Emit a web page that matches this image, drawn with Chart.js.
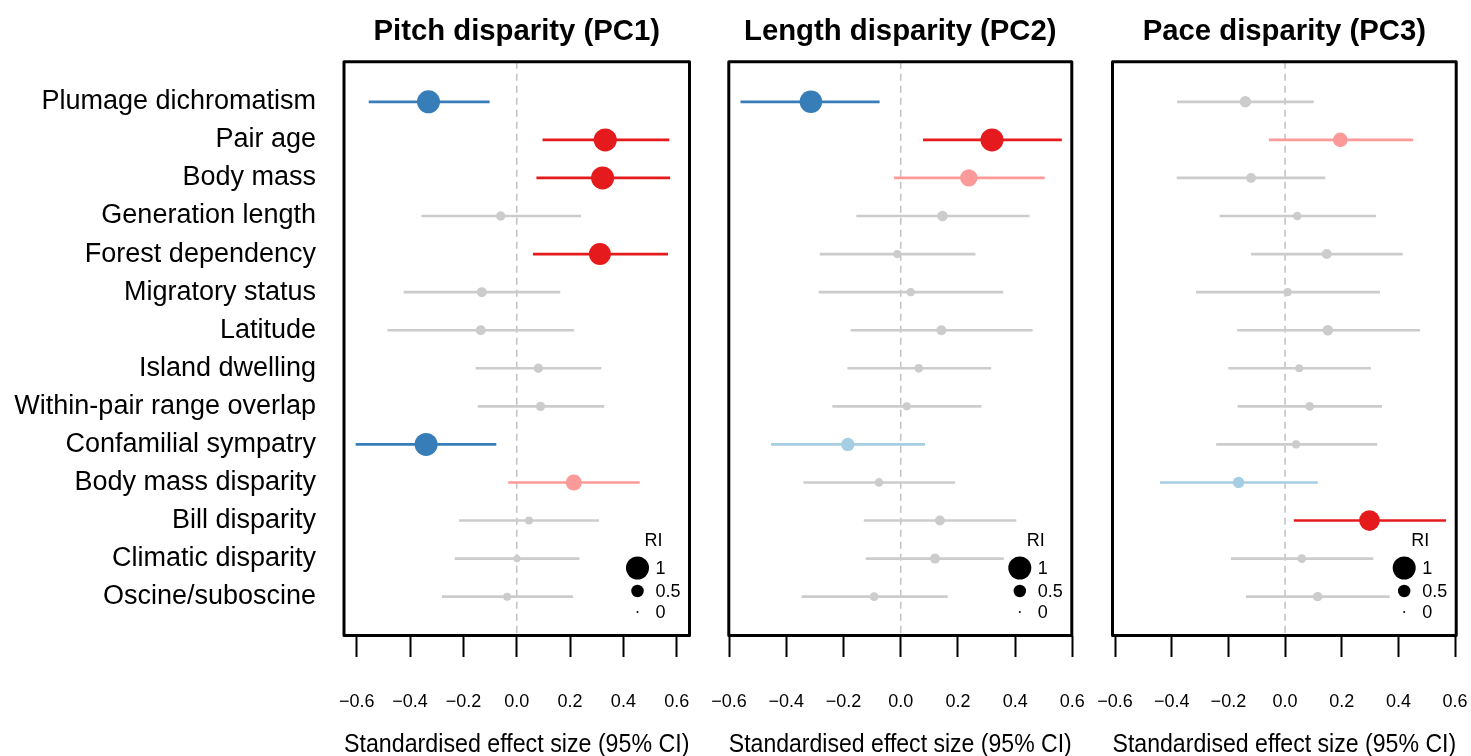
<!DOCTYPE html>
<html><head><meta charset="utf-8">
<script src="https://cdn.jsdelivr.net/npm/chart.js@4.4.1/dist/chart.umd.min.js"></script>
<style>
html,body{margin:0;padding:0;background:#fff;}
#wrap{position:relative;width:1471px;height:756px;overflow:hidden;background:#fff;}
canvas{position:absolute;top:0;}
</style></head><body>
<div id="wrap">
<canvas id="c1" width="705" height="756" style="left:0px;width:705px;height:756px"></canvas>
<canvas id="c2" width="385" height="756" style="left:705px;width:385px;height:756px"></canvas>
<canvas id="c3" width="381" height="756" style="left:1090px;width:381px;height:756px"></canvas>
</div>
<script>
// ---------- DATA ----------
const categories = ["Plumage dichromatism","Pair age","Body mass","Generation length","Forest dependency",
  "Migratory status","Latitude","Island dwelling","Within-pair range overlap","Confamilial sympatry",
  "Body mass disparity","Bill disparity","Climatic disparity","Oscine/suboscine"];
const xTickValues = [-0.6,-0.4,-0.2,0,0.2,0.4,0.6];
const xTickLabels = ["\u22120.6","\u22120.4","\u22120.2","0.0","0.2","0.4","0.6"];
const panelTitles = ["Pitch disparity (PC1)","Length disparity (PC2)","Pace disparity (PC3)"];
const axisTitle = "Standardised effect size (95% CI)";
const riLegendValues = [1, 0.5, 0];
const riLegendLabels = ["1","0.5","0"];

// Pitch disparity (PC1)
const pitchEst = [-0.331, 0.332, 0.322, -0.060, 0.312, -0.131, -0.135, 0.081, 0.089, -0.340, 0.214, 0.046, 0.001, -0.036];
const pitchLo  = [-0.554, 0.098, 0.075, -0.356, 0.062, -0.423, -0.484, -0.153, -0.145, -0.603, -0.031, -0.215, -0.231, -0.279];
const pitchHi  = [-0.103, 0.571, 0.574, 0.240, 0.566, 0.162, 0.214, 0.316, 0.327, -0.078, 0.460, 0.307, 0.234, 0.210];
const pitchRI  = [1.00, 1.00, 1.00, 0.35, 0.95, 0.38, 0.38, 0.35, 0.35, 1.00, 0.67, 0.29, 0.25, 0.29];
const pitchSupport = ["neg","pos","pos","ns","pos","ns","ns","ns","ns","neg","posw","ns","ns","ns"];

// Length disparity (PC2)
const lengthEst = [-0.314, 0.319, 0.238, 0.146, -0.012, 0.035, 0.142, 0.063, 0.021, -0.185, -0.076, 0.137, 0.120, -0.093];
const lengthLo  = [-0.559, 0.079, -0.022, -0.154, -0.282, -0.286, -0.174, -0.185, -0.238, -0.452, -0.339, -0.128, -0.121, -0.345];
const lengthHi  = [-0.075, 0.562, 0.502, 0.449, 0.260, 0.357, 0.460, 0.315, 0.281, 0.084, 0.189, 0.403, 0.359, 0.163];
const lengthRI  = [0.98, 1.00, 0.73, 0.41, 0.29, 0.29, 0.38, 0.32, 0.29, 0.54, 0.32, 0.38, 0.38, 0.32];
const lengthSupport = ["neg","pos","posw","ns","ns","ns","ns","ns","ns","negw","ns","ns","ns","ns"];

// Pace disparity (PC3)
const paceEst = [-0.140, 0.195, -0.120, 0.043, 0.147, 0.009, 0.151, 0.050, 0.087, 0.039, -0.164, 0.298, 0.059, 0.115];
const paceLo  = [-0.380, -0.056, -0.381, -0.230, -0.119, -0.313, -0.168, -0.199, -0.166, -0.242, -0.440, 0.032, -0.190, -0.137];
const paceHi  = [0.100, 0.451, 0.141, 0.320, 0.414, 0.334, 0.475, 0.302, 0.341, 0.324, 0.114, 0.567, 0.310, 0.368];
const paceRI  = [0.45, 0.60, 0.38, 0.32, 0.38, 0.29, 0.41, 0.29, 0.32, 0.29, 0.45, 0.89, 0.32, 0.35];
const paceSupport = ["ns","posw","ns","ns","ns","ns","ns","ns","ns","ns","negw","pos","ns","ns"];

// ---------- STYLE / LAYOUT ----------
const supportColors = {pos:"#E41A1C", posw:"#FB9A99", neg:"#377EB8", negw:"#A6CEE3", ns:"#CCCCCC"};
const riToRadius = ri => 1 + 10.5 * ri;
const FONT = "'Liberation Sans', Arial, Helvetica, sans-serif";
Chart.defaults.font.family = FONT;
Chart.defaults.color = "#000";

const panels = [
  {id:"c1", title:panelTitles[0], est:pitchEst, lo:pitchLo, hi:pitchHi, ri:pitchRI, sup:pitchSupport,
   xMin:-0.648, xMax:0.648, padL:0, padR:15.5, showY:true},
  {id:"c2", title:panelTitles[1], est:lengthEst, lo:lengthLo, hi:lengthHi, ri:lengthRI, sup:lengthSupport,
   xMin:-0.601, xMax:0.598, padL:23.8, padR:18.2, showY:false},
  {id:"c3", title:panelTitles[2], est:paceEst, lo:paceLo, hi:paceHi, ri:paceRI, sup:paceSupport,
   xMin:-0.609, xMax:0.604, padL:22.5, padR:14.8, showY:false}
];

const framePlugin = {
  id:"frame",
  beforeDatasetsDraw(chart){
    const {ctx, chartArea:a, scales:{x}} = chart;
    const px = x.getPixelForValue(0);
    ctx.save();
    ctx.strokeStyle = "#C4C4C4"; ctx.lineWidth = 1.6; ctx.setLineDash([7,5]);
    ctx.beginPath(); ctx.moveTo(px, a.top); ctx.lineTo(px, a.bottom); ctx.stroke();
    ctx.restore();
  },
  afterDraw(chart){
    const {ctx, chartArea:a} = chart;
    ctx.save();
    ctx.strokeStyle = "#000"; ctx.lineWidth = 3; ctx.lineJoin = "round";
    ctx.strokeRect(a.left, a.top, a.right - a.left, a.bottom - a.top);
    // RI legend
    const cx = a.right - 52, tx = a.right - 34;
    ctx.fillStyle = "#000";
    ctx.font = "18px " + FONT;
    ctx.textAlign = "center"; ctx.textBaseline = "middle";
    ctx.fillText("RI", a.right - 36, 541);
    const ys = [568, 591, 612];
    riLegendValues.forEach((v, i) => {
      ctx.beginPath(); ctx.arc(cx, ys[i], riToRadius(v), 0, Math.PI*2); ctx.fill();
      ctx.textAlign = "left";
      ctx.fillText(riLegendLabels[i], tx, ys[i] + 1);
    });
    ctx.restore();
  }
};

panels.forEach(p => {
  const colors = p.sup.map(s => supportColors[s]);
  new Chart(document.getElementById(p.id), {
    type: "bar",
    data: {
      datasets: [
        {type:"scatter", data: p.est.map((v,i) => ({x:v, y:i+1})),
         pointRadius: c => riToRadius(p.ri[c.dataIndex]), pointBackgroundColor: colors,
         pointBorderWidth: 0, pointHoverRadius: c => riToRadius(p.ri[c.dataIndex]), order: 1},
        {type:"bar", data: p.est.map((v,i) => ({y:i+1, x:[p.lo[i], p.hi[i]]})),
         backgroundColor: colors, borderWidth: 0, barThickness: 2, borderSkipped: false, order: 2}
      ]
    },
    options: {
      indexAxis: "y",
      responsive: false, animation: false, devicePixelRatio: 1, events: [],
      layout: {padding: {left: p.padL, right: p.padR, top: 0, bottom: 0}},
      plugins: {
        legend: {display: false}, tooltip: {enabled: false},
        title: {display: true, text: p.title, fullSize: false, color: "#000",
          font: {size: 29.3, weight: "bold", lineHeight: 1.2}, padding: {top: 14.4, bottom: 12.1}}
      },
      scales: {
        x: {type: "linear", min: p.xMin, max: p.xMax, offset: false,
          afterBuildTicks: s => { s.ticks = xTickValues.map(v => ({value: v})); },
          afterFit: s => { s.height = 120.5; },
          ticks: {callback: (v, i) => xTickLabels[i], font: {size: 18, lineHeight: "90px"}, color: "#000",
            padding: 0, autoSkip: false, maxRotation: 0, minRotation: 0},
          grid: {drawOnChartArea: false, drawTicks: true, tickLength: 21.5, tickWidth: 2, tickColor: "#000", offset: false},
          border: {display: false},
          title: {display: true, text: axisTitle, color: "#000", font: {size: 25.6, lineHeight: 0.9}, padding: 0}
        },
        y: {type: "linear", reverse: true, min: -0.055, max: 15.02, display: p.showY, offset: false,
          afterBuildTicks: s => { s.ticks = categories.map((c, i) => ({value: i + 1})); },
          afterFit: s => { if (p.showY) s.width = 344; },
          ticks: {callback: v => categories[v - 1], font: {size: 27}, color: "#000", padding: 28, autoSkip: false},
          grid: {display: false, drawTicks: false, offset: false},
          border: {display: false}
        }
      }
    },
    plugins: [framePlugin]
  });
});
</script>
</body></html>
